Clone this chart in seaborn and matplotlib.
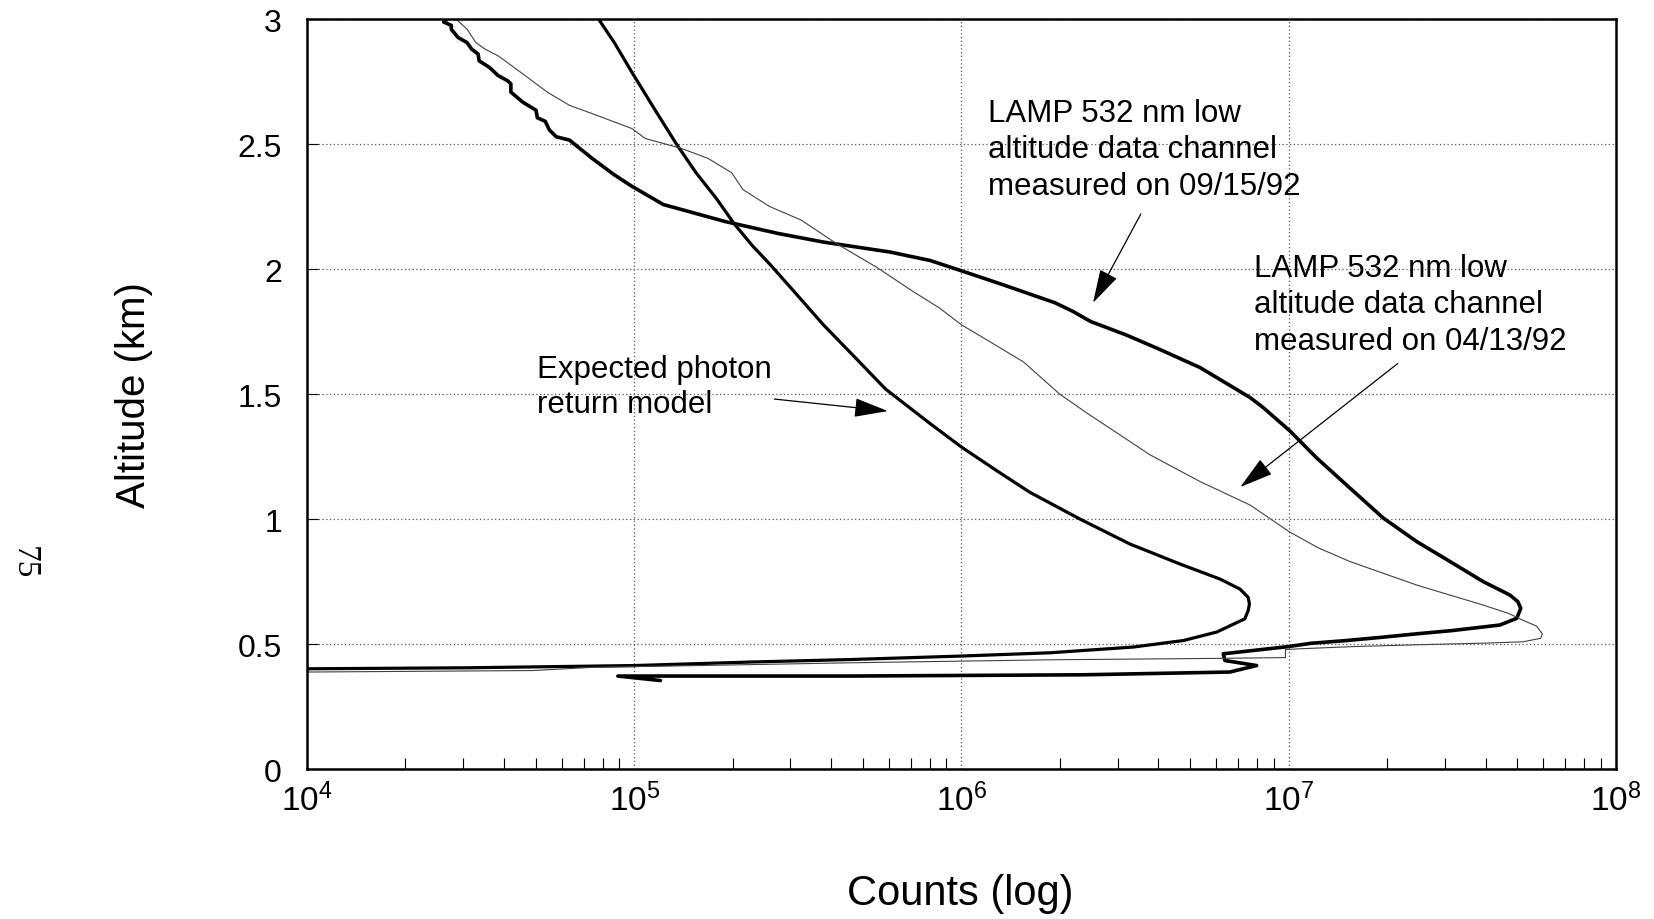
import numpy as np
import pandas as pd
import seaborn as sns
import matplotlib.pyplot as plt
from matplotlib.ticker import LogLocator, NullFormatter

# values: altitude (km) and log10(counts)
model_alt = [3.0, 2.906, 2.787, 2.642, 2.5, 2.385, 2.284, 2.182, 2.095, 2.02, 1.899, 1.777,
             1.649, 1.52, 1.382, 1.288, 1.194, 1.107, 1.0, 0.90, 0.82, 0.76, 0.72, 0.687,
             0.66, 0.634, 0.601, 0.548, 0.514, 0.488, 0.465, 0.452, 0.438,
             0.428, 0.414, 0.405, 0.401]
model_log = [4.891, 4.939, 4.993, 5.061, 5.129, 5.189, 5.25, 5.305, 5.36, 5.414, 5.496, 5.578,
             5.673, 5.768, 5.904, 6.0, 6.107, 6.209, 6.362, 6.515, 6.668, 6.79, 6.851, 6.876,
             6.88, 6.876, 6.866, 6.78, 6.678, 6.525, 6.27, 6.0, 5.66,
             5.354, 5.0, 4.488, 4.0]

sep_alt = [3.0, 2.988, 2.975, 2.959, 2.926, 2.906, 2.88, 2.86, 2.833, 2.807, 2.774, 2.754,
           2.741, 2.708, 2.668, 2.635, 2.605, 2.591, 2.556, 2.529, 2.516, 2.443, 2.377, 2.331,
           2.258, 2.19, 2.142, 2.108, 2.068, 2.034, 1.993, 1.939, 1.865, 1.831, 1.79, 1.736,
           1.682, 1.606, 1.486, 1.446, 1.352, 1.245, 1.124, 1.004, 0.91, 0.83, 0.75, 0.696,
           0.67, 0.643, 0.603, 0.576, 0.554, 0.541, 0.527, 0.514, 0.503, 0.49, 0.461, 0.434,
           0.414, 0.388, 0.377, 0.372, 0.372, 0.354]
sep_log = [4.428, 4.418, 4.441, 4.441, 4.462, 4.489, 4.503, 4.523, 4.526, 4.557, 4.584, 4.612,
           4.623, 4.623, 4.659, 4.70, 4.704, 4.728, 4.741, 4.762, 4.802, 4.871, 4.939, 4.993,
           5.089, 5.278, 5.441, 5.578, 5.782, 5.905, 6.0, 6.123, 6.286, 6.34, 6.395, 6.504,
           6.6, 6.729, 6.882, 6.922, 7.004, 7.085, 7.187, 7.289, 7.391, 7.493, 7.594, 7.676,
           7.70, 7.709, 7.697, 7.645, 7.5, 7.392, 7.284, 7.176, 7.068, 7.0, 6.80, 6.805,
           6.902, 6.82, 6.372, 5.66, 4.95, 5.08]

apr_alt = [3.0, 2.96, 2.906, 2.88, 2.853, 2.787, 2.708, 2.655, 2.622, 2.562, 2.522, 2.483,
           2.443, 2.385, 2.318, 2.25, 2.196, 2.101, 2.007, 1.912, 1.845, 1.777, 1.703, 1.628,
           1.5, 1.426, 1.355, 1.257, 1.15, 1.056, 0.949, 0.885, 0.83, 0.736, 0.656, 0.622,
           0.595, 0.572, 0.541, 0.523, 0.509, 0.504, 0.497, 0.49,
           0.481, 0.478, 0.446, 0.443, 0.437, 0.425, 0.414, 0.407, 0.394, 0.388]
apr_log = [4.455, 4.489, 4.516, 4.544, 4.584, 4.653, 4.734, 4.802, 4.871, 4.993, 5.034, 5.143,
           5.225, 5.298, 5.332, 5.414, 5.51, 5.619, 5.741, 5.85, 5.932, 6.0, 6.095, 6.19,
           6.3, 6.381, 6.463, 6.576, 6.729, 6.882, 7.002, 7.09, 7.187, 7.391, 7.594, 7.673,
           7.716, 7.757, 7.775, 7.77, 7.716, 7.608, 7.392, 7.2,
           7.034, 6.99, 6.99, 6.81, 6.27, 5.66, 5.2, 4.875, 4.69, 4.0]

y_ticks = [0, 0.5, 1, 1.5, 2, 2.5, 3]
y_labels = ["0", "0.5", "1", "1.5", "2", "2.5", "3"]

sns.set_style("white")
plt.rcParams['font.family'] = ['Liberation Sans', 'DejaVu Sans']
plt.rcParams['mathtext.fontset'] = 'custom'
plt.rcParams['mathtext.rm'] = 'Liberation Sans'
plt.rcParams['mathtext.it'] = 'Liberation Sans'
plt.rcParams['text.color'] = 'black'
plt.rcParams['axes.labelcolor'] = 'black'
plt.rcParams['xtick.color'] = 'black'
plt.rcParams['ytick.color'] = 'black'

fig = plt.figure(figsize=(16.54, 9.2), dpi=100)
ax = fig.add_axes([0.1856, 0.163, 0.7914, 0.8152])

curves = [(model_alt, model_log, 2.3, 'black'),
          (sep_alt, sep_log, 2.6, 'black'),
          (apr_alt, apr_log, 0.8, '#404040')]
for alt, lg, lw, col in curves:
    d = pd.DataFrame({'alt': alt, 'counts': 10 ** np.array(lg)})
    sns.lineplot(data=d, x='counts', y='alt', sort=False, estimator=None,
                 color=col, linewidth=lw, ax=ax)

ax.set_xscale('log')
ax.set_xlim(1e4, 1e8)
ax.set_ylim(0, 3)
ax.set_yticks(y_ticks)
ax.set_yticklabels(y_labels)
ax.xaxis.set_minor_locator(LogLocator(base=10, subs=np.arange(2, 10)))
ax.xaxis.set_minor_formatter(NullFormatter())
ax.grid(True, which='major', linestyle=(0, (1, 2)), linewidth=0.9, color='#555555')
ax.tick_params(axis='x', which='major', direction='in', length=0, pad=10, labelsize=24)
ax.tick_params(axis='x', which='minor', direction='in', length=8, width=0.8, bottom=True)
ax.tick_params(axis='y', which='major', direction='in', length=8, width=0.8, pad=18,
               labelsize=23, left=True)
for s in ax.spines.values():
    s.set_visible(True)
    s.set_color('black')
    s.set_linewidth(1.8)

ax.set_xlabel('Counts (log)', fontsize=30)
ax.set_ylabel('Altitude (km)', fontsize=29)
ax.xaxis.set_label_coords(0.499, -0.138)
ax.yaxis.set_label_coords(-0.118, 0.5)

ax.text(1.206e6, 2.685, 'LAMP 532 nm low\naltitude data channel\nmeasured on 09/15/92',
        fontsize=22.5, ha='left', va='top', linespacing=1.28)
ax.text(7.83e6, 2.065, 'LAMP 532 nm low\naltitude data channel\nmeasured on 04/13/92',
        fontsize=22.5, ha='left', va='top', linespacing=1.28)
ax.text(5.05e4, 1.66, 'Expected photon\nreturn model',
        fontsize=22.5, ha='left', va='top', linespacing=1.2)

arrow = dict(arrowstyle='-|>,head_length=0.85,head_width=0.24', lw=0.9, color='black',
             mutation_scale=25, shrinkA=0, shrinkB=0)
ax.annotate('', xy=(10 ** 6.402, 1.865), xytext=(10 ** 6.548, 2.22), arrowprops=arrow)
ax.annotate('', xy=(10 ** 6.852, 1.128), xytext=(10 ** 7.333, 1.622), arrowprops=arrow)
ax.annotate('', xy=(10 ** 5.775, 1.432), xytext=(10 ** 5.428, 1.48), arrowprops=arrow)

fig.text(0.0145, 0.388, '75', rotation=-90, fontsize=24, family='Liberation Serif',
         ha='center', va='center')

fig.savefig('out.png', dpi=100, facecolor='white')
